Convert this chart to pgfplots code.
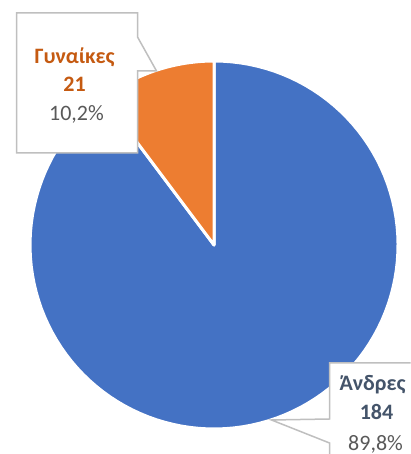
\documentclass[border=0pt]{standalone}
\usepackage{fontspec}
\setmainfont{Carlito}
\usepackage{pgfplots}
\usepackage{pgfplotstable}
\pgfplotsset{compat=1.18}

\definecolor{pieblue}{HTML}{4472C4}
\definecolor{pieorange}{HTML}{ED7D31}
\definecolor{lblorange}{HTML}{C55A11}
\definecolor{lblslate}{HTML}{44546A}
\definecolor{lblgray}{HTML}{595959}
\definecolor{boxgray}{HTML}{BFBFBF}

% count per group: men, women
\pgfplotstableread{
value
184
21
}\piedata

\begin{document}
\pgfplotstablegetelem{0}{value}\of\piedata \let\men\pgfplotsretval
\pgfplotstablegetelem{1}{value}\of\piedata \let\women\pgfplotsretval
\pgfmathsetmacro\wangle{360*\women/(\men+\women)}
\pgfmathsetmacro\wend{90+\wangle}
\begin{tikzpicture}
\begin{axis}[
    width=406pt, height=454pt, scale only axis,
    xmin=0, xmax=406, ymin=0, ymax=454,
    hide axis, clip=true,
    trig format plots=deg,
]
% slices (centre 209.5,209, radius 184 incl. white border)
\addplot[draw=white, line width=3pt, line join=round, fill=pieblue,
    domain=\wend:450, samples=120, variable=\t]
    ({209.5+184*cos(t)},{209+184*sin(t)}) -- (axis cs:209.5,209) -- cycle;
\addplot[draw=white, line width=3pt, line join=round, fill=pieorange,
    domain=90:\wend, samples=30, variable=\t]
    ({209.5+184*cos(t)},{209+184*sin(t)}) -- (axis cs:209.5,209) -- cycle;

% callouts
\draw[boxgray, line width=1.5pt, fill=white]
    (axis cs:12,441) -- (axis cs:133,441) -- (axis cs:133,417) -- (axis cs:152,383)
    -- (axis cs:133,383) -- (axis cs:133,301) -- (axis cs:12,301) -- cycle;
\draw[boxgray, line width=1.5pt, fill=white]
    (axis cs:325,91) -- (axis cs:415,91) -- (axis cs:415,-5) -- (axis cs:325,-5)
    -- (axis cs:325,11) -- (axis cs:267,34) -- (axis cs:325,35) -- cycle;

\begin{scope}[every node/.style={anchor=base, inner sep=0pt, font=\fontsize{22}{26}\selectfont}]
\node[text=lblorange, font=\fontsize{22}{26}\selectfont\bfseries] at (axis cs:70,390) {Γυναίκες};
\node[text=lblorange, font=\fontsize{22}{26}\selectfont\bfseries] at (axis cs:70,362) {\women};
\node[text=lblgray] at (axis cs:72,333) {10,2\%};
\node[text=lblslate, font=\fontsize{22}{26}\selectfont\bfseries] at (axis cs:368,63) {Άνδρες};
\node[text=lblslate, font=\fontsize{22}{26}\selectfont\bfseries] at (axis cs:372,34) {\men};
\node[text=lblgray] at (axis cs:371,4) {89,8\%};
\end{scope}
\end{axis}
\pgfresetboundingbox
\path (0,0) rectangle (406pt,454pt);
\end{tikzpicture}
\end{document}
